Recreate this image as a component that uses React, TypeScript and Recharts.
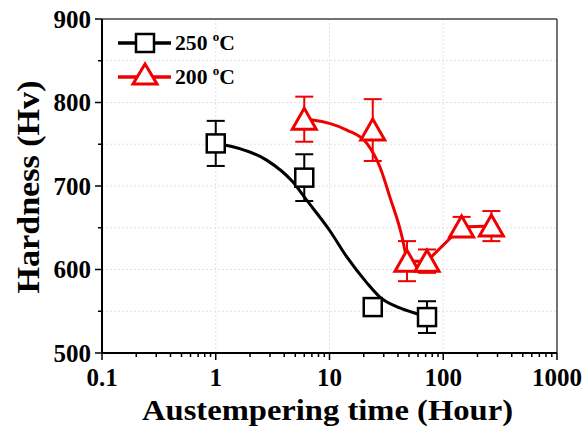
import React from 'react';
import {
  ComposedChart,
  Line,
  Scatter,
  XAxis,
  YAxis,
  CartesianGrid,
  ErrorBar,
  ReferenceLine,
  Legend,
  Label,
} from 'recharts';

const FONT = "'Liberation Serif', 'Times New Roman', Times, serif";
const RED = '#f00000';

// 250 °C measurements
const time250 = [1, 6, 24, 72];
const hard250 = [751, 710, 555, 543];
const err250 = [27, 28, 8, 19];

// 200 °C measurements
const time200 = [6, 24, 48, 72, 145, 265];
const hard200 = [780, 767, 610, 610, 651, 652];
const err200 = [27, 37, 24, 14, 12, 18];

// fitted curves
const fitTime250 = [1, 1.41, 2.8, 4.75, 6.3, 10, 14.2, 21.3, 27.7, 41.5, 62, 72];
const fitHard250 = [751, 747, 731, 705, 683, 647, 615, 584, 567, 554, 546, 543];
const fitTime200 = [6, 7.1, 10, 14.2, 21.3, 27.7, 33.9, 44.1, 48];
const fitHard200 = [780, 779, 775, 767, 751, 723, 687, 635, 610];

// ticks
const xMajorTicks = [0.1, 1, 10, 100, 1000];
const xMinorTicks = [
  0.2, 0.3, 0.4, 0.5, 0.6, 0.7, 0.8, 0.9,
  2, 3, 4, 5, 6, 7, 8, 9,
  20, 30, 40, 50, 60, 70, 80, 90,
  200, 300, 400, 500, 600, 700, 800, 900,
];
const yMajorTicks = [500, 600, 700, 800, 900];
const yMinorTicks = [550, 650, 750, 850];
const xTickLabels = ['0.1', '1', '10', '100', '1000'];

const seriesNames = ['250 \u00B0C', '200 \u00B0C'];

const pts250 = time250.map((x, i) => ({ x, y: hard250[i], err: err250[i] }));
const pts200 = time200.map((x, i) => ({ x, y: hard200[i], err: err200[i] }));
const fit250 = fitTime250.map((x, i) => ({ x, y: fitHard250[i] }));
const fit200 = fitTime200.map((x, i) => ({ x, y: fitHard200[i] }));
const link200 = pts200.slice(2);

const xTicks = [...xMajorTicks, ...xMinorTicks].sort((a, b) => a - b);
const yTicks = [...yMajorTicks, ...yMinorTicks].sort((a, b) => a - b);

const XTick = (props: any) => {
  const { x, y, payload } = props;
  const v = payload.value;
  const idx = xMajorTicks.indexOf(v);
  const major = idx >= 0;
  return (
    <g>
      <line x1={x} y1={y} x2={x} y2={y + (major ? 7 : 4)} stroke="#000" strokeWidth={1.5} />
      {major && (
        <text x={x} y={y + 33} textAnchor="middle" fontFamily={FONT} fontWeight="bold" fontSize={25} fill="#000">
          {xTickLabels[idx]}
        </text>
      )}
    </g>
  );
};

const YTick = (props: any) => {
  const { x, y, payload } = props;
  const v = payload.value;
  const major = yMajorTicks.includes(v);
  return (
    <g>
      <line x1={x - (major ? 7 : 4)} y1={y} x2={x} y2={y} stroke="#000" strokeWidth={1.5} />
      {major && (
        <text x={x - 11} y={y} dy="0.35em" textAnchor="end" fontFamily={FONT} fontWeight="bold" fontSize={25} fill="#000">
          {v}
        </text>
      )}
    </g>
  );
};

const Square = (props: any) => {
  const { cx, cy } = props;
  if (cx == null || cy == null) return null;
  return <rect x={cx - 9} y={cy - 9} width={18} height={18} fill="#fff" stroke="#000" strokeWidth={2.5} />;
};

const Triangle = (props: any) => {
  const { cx, cy } = props;
  if (cx == null || cy == null) return null;
  return (
    <polygon
      points={`${cx},${cy - 11} ${cx - 12},${cy + 10} ${cx + 12},${cy + 10}`}
      fill="#fff"
      stroke={RED}
      strokeWidth={3}
      strokeLinejoin="miter"
    />
  );
};

const NoShape = () => <g />;

const LegendContent = () => {
  const row = (y: number, color: string, marker: 'sq' | 'tri', name: string) => {
    const [num] = name.split(' ');
    return (
      <g>
        <line x1={118} y1={y} x2={171} y2={y} stroke={color} strokeWidth={3.5} />
        {marker === 'sq' ? (
          <rect x={136} y={y - 9} width={18} height={18} fill="#fff" stroke="#000" strokeWidth={2.5} />
        ) : (
          <polygon
            points={`145,${y - 13} 133,${y + 7} 157,${y + 7}`}
            fill="#fff"
            stroke={RED}
            strokeWidth={3}
          />
        )}
        <text x={175} y={y + 7} fontFamily={FONT} fontWeight="bold" fontSize={20} fill="#000" textLength={60} lengthAdjust="spacingAndGlyphs">
          {num + ' '}
          <tspan fontSize={12} dy={-9}>o</tspan>
          <tspan dy={9}>C</tspan>
        </text>
      </g>
    );
  };
  return (
    <svg width={260} height={100} style={{ position: 'absolute', left: 0, top: 0, overflow: 'visible' }}>
      {row(43, '#000', 'sq', seriesNames[0])}
      {row(77, RED, 'tri', seriesNames[1])}
    </svg>
  );
};

const XTitle = (props: any) => {
  const vb = props.viewBox || { x: 102, y: 353, width: 455, height: 77 };
  return (
    <text
      x={vb.x + vb.width / 2 - 2}
      y={vb.y + 67}
      textAnchor="middle"
      fontFamily={FONT}
      fontWeight="bold"
      fontSize={30}
      fill="#000"
      textLength={371}
      lengthAdjust="spacingAndGlyphs"
    >
      Austempering time (Hour)
    </text>
  );
};

const YTitle = (props: any) => {
  const vb = props.viewBox || { x: 0, y: 19, width: 102, height: 334 };
  const cy = vb.y + vb.height / 2 + 1;
  const cx = 39;
  return (
    <text
      x={cx}
      y={cy}
      transform={`rotate(-90, ${cx}, ${cy})`}
      textAnchor="middle"
      fontFamily={FONT}
      fontWeight="bold"
      fontSize={32}
      fill="#000"
      textLength={213}
      lengthAdjust="spacingAndGlyphs"
    >
      Hardness (Hv)
    </text>
  );
};

export default function App() {
  return (
    <div style={{ position: 'absolute', left: 0, top: 0, width: 584, height: 430, background: '#fff' }}>
      <ComposedChart width={584} height={430} margin={{ top: 19, right: 27, bottom: 0, left: 0 }}>
        <CartesianGrid
          stroke="#e2e2e2"
          strokeDasharray="2 2"
          horizontalValues={[550, 600, 650, 700, 750, 800, 850]}
          verticalValues={[1, 10, 100]}
        />
        <XAxis
          type="number"
          dataKey="x"
          scale="log"
          domain={[0.1, 1000]}
          allowDataOverflow
          ticks={xTicks}
          interval={0}
          tick={<XTick />}
          tickLine={false}
          tickSize={0}
          tickMargin={0}
          axisLine={{ stroke: '#000', strokeWidth: 2 }}
          height={77}
        >
          <Label content={<XTitle />} />
        </XAxis>
        <YAxis
          type="number"
          dataKey="y"
          domain={[500, 900]}
          allowDataOverflow
          ticks={yTicks}
          interval={0}
          tick={<YTick />}
          tickLine={false}
          tickSize={0}
          tickMargin={0}
          axisLine={{ stroke: '#000', strokeWidth: 2 }}
          width={102}
        >
          <Label content={<YTitle />} />
        </YAxis>
        <ReferenceLine y={900} stroke="#444" strokeWidth={1.5} />
        <ReferenceLine x={1000} stroke="#444" strokeWidth={1.5} />
        <Legend
          layout="vertical"
          align="center"
          verticalAlign="middle"
          content={<LegendContent />}
          wrapperStyle={{ left: 0, top: 0, width: 260, height: 100 }}
        />
        <Line data={fit250} dataKey="y" type="monotone" stroke="#000" strokeWidth={3} dot={false} isAnimationActive={false} legendType="none" />
        <Line data={fit200} dataKey="y" type="monotone" stroke={RED} strokeWidth={3} dot={false} isAnimationActive={false} legendType="none" />
        <Line data={link200} dataKey="y" type="linear" stroke={RED} strokeWidth={3} dot={false} isAnimationActive={false} legendType="none" />
        {/* error bars first, so the open markers sit on top of them */}
        <Scatter data={pts250} dataKey="y" shape={<NoShape />} isAnimationActive={false} legendType="none">
          <ErrorBar dataKey="err" direction="y" width={9} stroke="#000" strokeWidth={2} />
        </Scatter>
        <Scatter data={pts200} dataKey="y" shape={<NoShape />} isAnimationActive={false} legendType="none">
          <ErrorBar dataKey="err" direction="y" width={9} stroke={RED} strokeWidth={2} />
        </Scatter>
        <Scatter name={seriesNames[0]} data={pts250} dataKey="y" shape={<Square />} isAnimationActive={false} />
        <Scatter name={seriesNames[1]} data={pts200} dataKey="y" shape={<Triangle />} isAnimationActive={false} />
      </ComposedChart>
    </div>
  );
}
